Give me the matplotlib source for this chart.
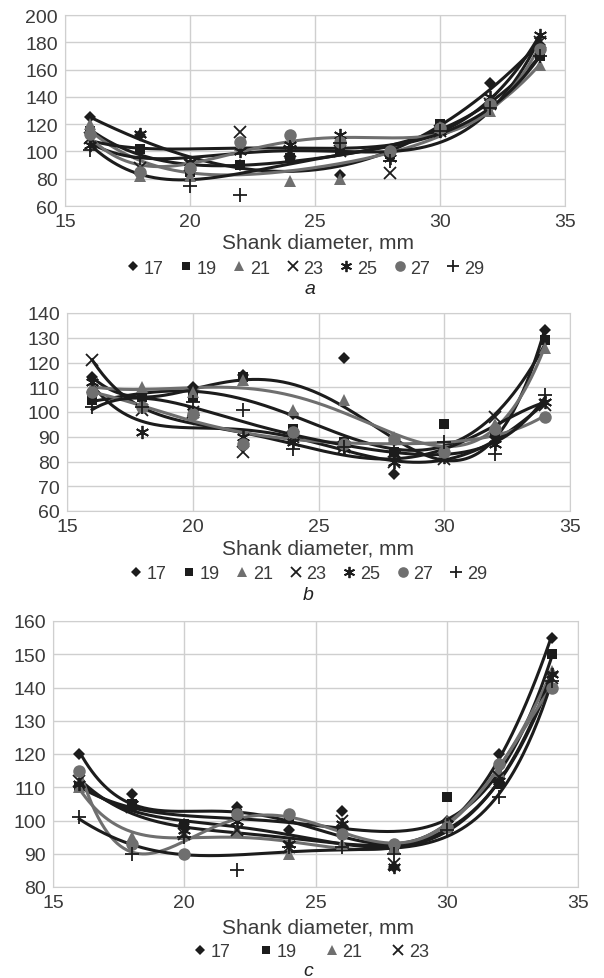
import matplotlib

matplotlib.use("Agg")
import matplotlib.pyplot as plt
import numpy as np
from matplotlib.lines import Line2D

plt.rcParams["font.family"] = ["Liberation Sans", "DejaVu Sans"]

W, H = 604, 979

# shank diameter, mm
x = [16, 18, 20, 22, 24, 26, 28, 30, 32, 34]
series_names = ["17", "19", "21", "23", "25", "27", "29"]

# panel a
a_17 = [125, 112, 88, 90, 95, 83, 98, 118, 150, 178]
a_19 = [115, 102, 85, 90, 95, 100, 98, 120, 135, 170]
a_21 = [120, 82, 82, 105, 78, 80, 100, 118, 130, 163]
a_23 = [110, 88, 90, 114, 100, 100, 84, 115, 135, 180]
a_25 = [105, 113, 92, 100, 105, 112, 95, 115, 140, 185]
a_27 = [113, 85, 88, 107, 112, 107, 100, 117, 135, 175]
a_29 = [101, 95, 75, 68, 103, 106, 93, 115, 132, 170]

# panel b
b_17 = [114, 106, 110, 115, 99, 122, 75, 84, 90, 133]
b_19 = [105, 106, 106, 114, 93, 88, 84, 95, 92, 129]
b_21 = [110, 110, 108, 113, 101, 105, 90, 84, 95, 126]
b_23 = [121, 101, 100, 84, 90, 86, 80, 81, 98, 103]
b_25 = [112, 92, 100, 90, 88, 86, 80, 82, 87, 104]
b_27 = [108, 102, 99, 87, 92, 87, 89, 84, 93, 98]
b_29 = [102, 102, 104, 101, 85, 86, 84, 88, 83, 107]

# panel c
c_17 = [120, 108, 99, 104, 97, 103, 86, 100, 120, 155]
c_19 = [110, 105, 99, 102, 101, 97, 92, 107, 111, 150]
c_21 = [110, 95, 96, 97, 90, 93, 92, 100, 115, 145]
c_23 = [112, 104, 96, 97, 92, 100, 87, 98, 113, 143]
c_25 = [111, 105, 97, 100, 93, 99, 86, 99, 112, 144]
c_27 = [115, 93, 90, 102, 102, 96, 93, 98, 117, 140]
c_29 = [101, 90, 95, 85, 92, 92, 90, 97, 107, 142]

DARK = "#1c1c1c"
GRAY = "#6f6f6f"
TXT = "#3a3a3a"
styles = {
    "17": dict(marker="D", color=DARK, ms=6.5, mew=0),
    "19": dict(marker="s", color=DARK, ms=7.5, mew=0),
    "21": dict(marker="^", color=GRAY, ms=9, mew=0),
    "23": dict(marker="x", color=DARK, ms=8.5, mew=1.3),
    "25": dict(marker=(6, 2, 0), color=DARK, ms=9.5, mew=1.3),
    "27": dict(marker="o", color=GRAY, ms=9, mew=0),
    "29": dict(marker="+", color=DARK, ms=9.5, mew=1.3),
}


def fax(left, right, top, bottom):
    return fig.add_axes([left / W, 1 - bottom / H, (right - left) / W, (bottom - top) / H])


def panel(ax, data, ylim, ystep, deg):
    xs = np.linspace(16, 34, 300)
    for name, ys in zip(series_names, data):
        st = styles[name]
        coef = np.polyfit(x, ys, deg)
        ax.plot(xs, np.polyval(coef, xs), color=st["color"], lw=2.2, zorder=2)
        ax.plot(x, ys, ls="none", marker=st["marker"], color=st["color"],
                ms=st["ms"], mew=st["mew"], zorder=3)
    ax.set_xlim(15, 35)
    ax.set_ylim(*ylim)
    ax.set_xticks(range(15, 36, 5))
    ax.set_yticks(range(ylim[0], ylim[1] + 1, ystep))
    ax.grid(True, color="#cfcfcf", lw=1.0)
    ax.set_axisbelow(True)
    for s in ax.spines.values():
        s.set_color("#cfcfcf")
    ax.tick_params(length=0, labelsize=14, labelcolor=TXT, pad=5)


def legend_row(ax, names, y, cx, spacing):
    handles = []
    for name in names:
        st = styles[name]
        handles.append(Line2D([], [], ls="none", marker=st["marker"], color=st["color"],
                              ms=st["ms"] * 0.85, mew=st["mew"], label=name))
    leg = ax.legend(handles=handles, loc="center", ncol=len(names), frameon=False,
                    bbox_to_anchor=(cx / W, 1 - y / H), bbox_transform=fig.transFigure,
                    handlelength=0.7, handletextpad=0.25, columnspacing=spacing,
                    fontsize=13, borderaxespad=0)
    for t in leg.get_texts():
        t.set_color(TXT)


fig = plt.figure(figsize=(W / 100, H / 100), dpi=100)

ax_a = fax(65, 565, 16, 207)
panel(ax_a, [a_17, a_19, a_21, a_23, a_25, a_27, a_29], (60, 200), 20, 4)
fig.text(318 / W, 1 - 243 / H, "Shank diameter, mm", ha="center", va="center", fontsize=15, color=TXT)
legend_row(ax_a, series_names, 269, 305, 0.9)
fig.text(310 / W, 1 - 289 / H, "a", ha="center", va="center", fontsize=14, style="italic", color="#222222")

ax_b = fax(67, 570, 314, 512)
panel(ax_b, [b_17, b_19, b_21, b_23, b_25, b_27, b_29], (60, 140), 10, 5)
fig.text(318 / W, 1 - 549 / H, "Shank diameter, mm", ha="center", va="center", fontsize=15, color=TXT)
legend_row(ax_b, series_names, 575, 308, 0.9)
fig.text(308 / W, 1 - 596 / H, "b", ha="center", va="center", fontsize=14, style="italic", color="#222222")

ax_c = fax(53, 578, 622, 888)
panel(ax_c, [c_17, c_19, c_21, c_23, c_25, c_27, c_29], (80, 160), 10, 5)
fig.text(318 / W, 1 - 928 / H, "Shank diameter, mm", ha="center", va="center", fontsize=15, color=TXT)
legend_row(ax_c, series_names[:4], 953, 311, 1.6)
fig.text(308 / W, 1 - 972 / H, "c", ha="center", va="center", fontsize=14, style="italic", color="#222222")

fig.savefig("out.png", dpi=100)
